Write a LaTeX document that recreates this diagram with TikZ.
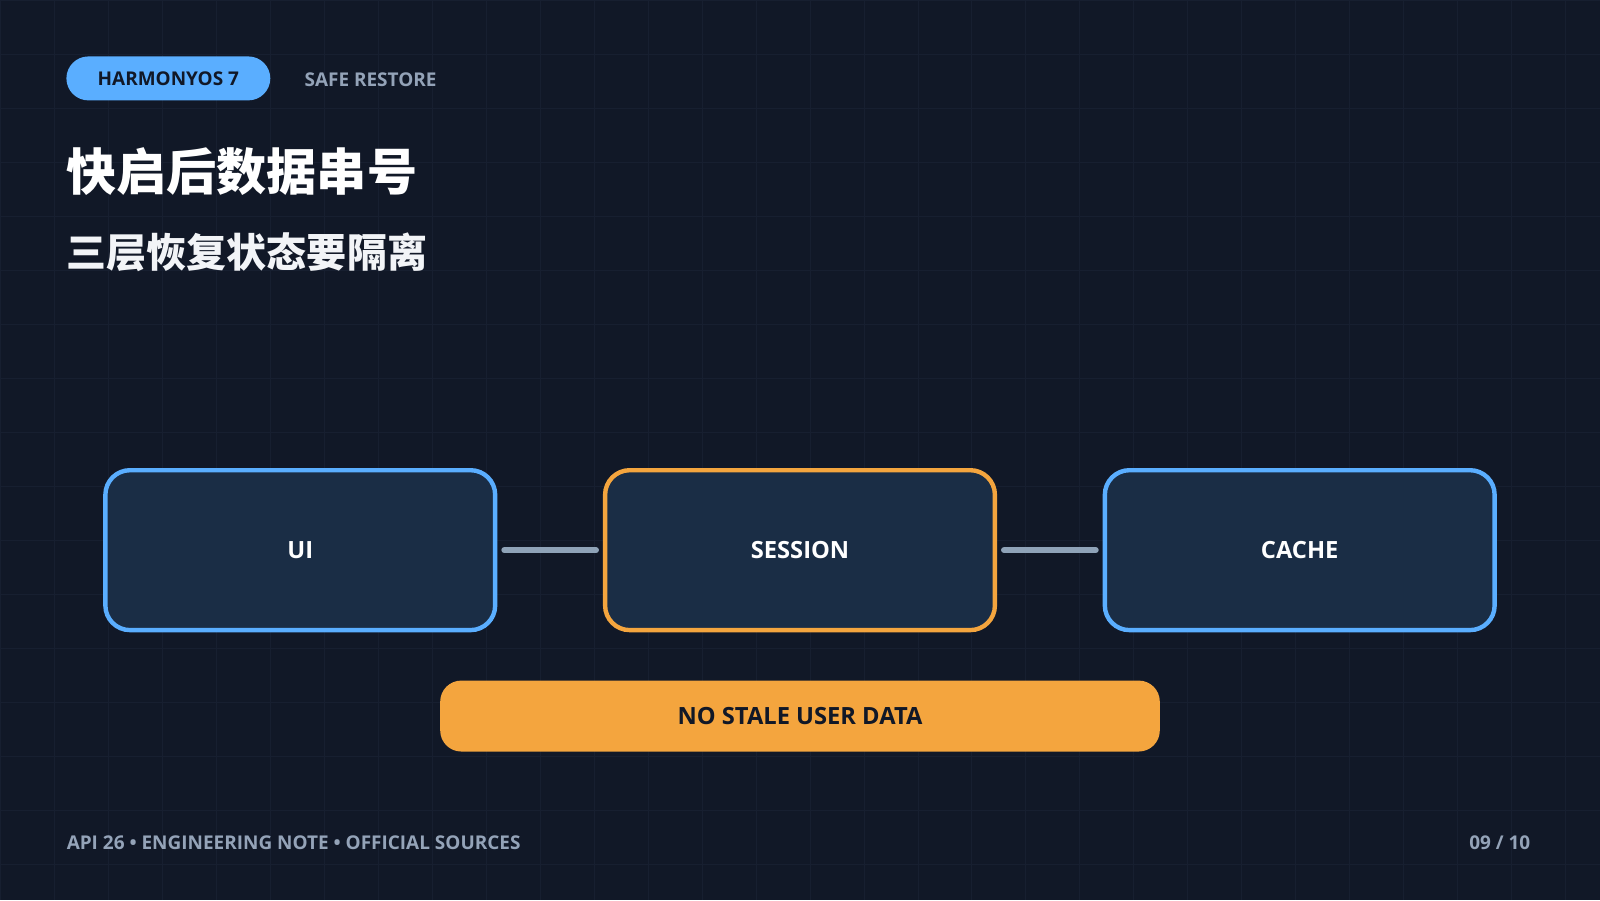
\documentclass[tikz,border=0pt]{standalone}
\usepackage{fontspec}
\setmainfont{Open Sans}[BoldFont={Open Sans Bold}]
\newfontfamily\cjk{Noto Sans CJK SC}
\definecolor{bgdark}{HTML}{111827}
\definecolor{gridc}{HTML}{171F30}
\definecolor{boxfill}{HTML}{1A2D45}
\definecolor{accblue}{HTML}{5AAEFF}
\definecolor{accorange}{HTML}{F4A53E}
\definecolor{muted}{HTML}{94A3B8}
\definecolor{linkc}{HTML}{8FA3B8}
\tikzset{
  layer/.style={draw=#1,line width=2.5pt,fill=boxfill,rounded corners=14pt,
    minimum width=390\px,minimum height=160\px,text=white,
    font=\fontsize{13.5}{16}\selectfont\bfseries},
  link/.style={draw=linkc,line width=3.5pt,line cap=round},
  tag/.style={font=\fontsize{10.8}{12}\selectfont\bfseries,inner sep=0pt}
}
\newlength\px \setlength\px{0.02cm}
\begin{document}
\begin{tikzpicture}[x=0.02cm,y=-0.02cm]
\fill[bgdark] (0,0) rectangle (1600,900);
\foreach \g in {0,54,...,1600} \draw[gridc,line width=0.5pt] (\g,0) -- (\g,900);
\foreach \g in {0,54,...,900} \draw[gridc,line width=0.5pt] (0,\g) -- (1600,\g);
\useasboundingbox (0,0) rectangle (1600,900);
% header
\node[fill=accblue,rounded corners=22\px,minimum width=204\px,minimum height=44\px,
  tag,text=bgdark] (brand) at (168,78) {HARMONYOS 7};
\node[tag,text=muted,anchor=west] (topic) at (304,79) {SAFE RESTORE};
\node[anchor=west,inner sep=0pt,text=white,font=\cjk\fontsize{28.5}{34}\selectfont\bfseries] (title) at (66,171) {快启后数据串号};
\node[anchor=west,inner sep=0pt,text=white!88!muted,font=\cjk\fontsize{22.8}{26}\selectfont\bfseries] (subtitle) at (66,252) {三层恢复状态要隔离};
% layers
\node[layer=accblue] (ui) at (300,550) {UI};
\node[layer=accorange] (session) at (800,550) {SESSION};
\node[layer=accblue] (cache) at (1300,550) {CACHE};
\draw[link] ([xshift=7\px]ui.east) -- ([xshift=-7\px]session.west);
\draw[link] ([xshift=7\px]session.east) -- ([xshift=-7\px]cache.west);
% rule
\node[fill=accorange,rounded corners=12pt,minimum width=720\px,minimum height=71\px,
  text=bgdark,font=\fontsize{13.5}{16}\selectfont\bfseries] (rule) at (800,716) {NO STALE USER DATA};
% footer
\node[tag,text=muted,anchor=west] (foot) at (66,843) {API 26 • ENGINEERING NOTE • OFFICIAL SOURCES};
\node[tag,text=muted,anchor=east] (page) at (1531,843) {09 / 10};
\end{tikzpicture}
\end{document}
